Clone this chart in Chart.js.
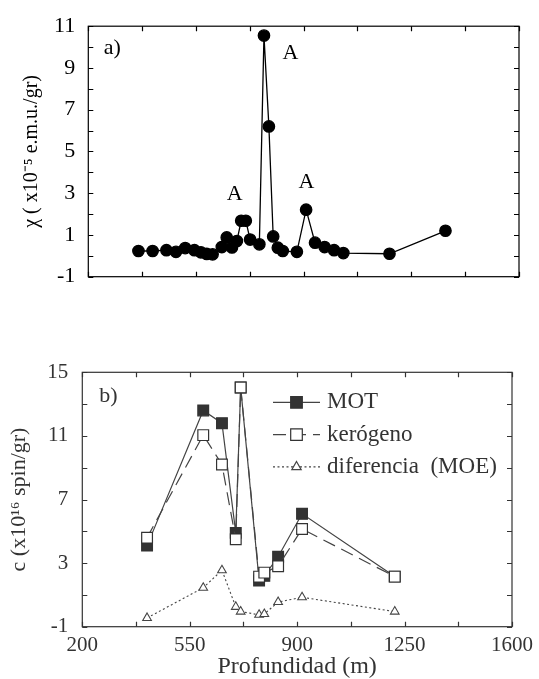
<!DOCTYPE html>
<html>
<head>
<meta charset="utf-8">
<script src="https://cdn.jsdelivr.net/npm/chart.js@4.4.1/dist/chart.umd.min.js"></script>
<style>
  body { margin: 0; background: #fff; }
  #wrap { position: relative; width: 539px; height: 679px; }
  canvas { position: absolute; left: 0; }
  #chartA { top: 0; }
  #chartB { top: 330px; }
</style>
</head>
<body>
<div id="wrap">
  <canvas id="chartA" width="539" height="330"></canvas>
  <canvas id="chartB" width="539" height="349"></canvas>
</div>
<script>
// datos leidos del grafico
// a) susceptibilidad
const profChi = [363, 409, 454, 485, 515, 545, 566, 585, 604, 634, 650, 667, 683, 697, 712, 726, 756, 771, 787, 801, 816, 832, 878, 908, 937, 968, 999, 1029, 1179, 1361];
const chi = [0.23, 0.23, 0.27, 0.19, 0.37, 0.27, 0.17, 0.09, 0.07, 0.42, 0.88, 0.4, 0.71, 1.68, 1.68, 0.78, 0.55, 10.55, 6.2, 0.93, 0.39, 0.23, 0.19, 2.21, 0.63, 0.42, 0.27, 0.13, 0.1, 1.2];

// b) concentracion de spin
const profC = [411, 594, 655, 700, 716, 776, 793, 838, 916, 1218];
const mot = [4.1, 12.6, 11.8, 4.9, 14.05, 1.9, 2.2, 3.4, 6.1, 2.15];
const kerogeno = [4.6, 11.05, 9.2, 4.5, 14.05, 2.15, 2.4, 2.8, 5.15, 2.15];
const diferencia = [-0.45, 1.45, 2.55, 0.25, -0.05, -0.25, -0.2, 0.55, 0.85, -0.05];

const etiquetasSerie = ['MOT', 'kerógeno', 'diferencia  (MOE)'];

const pares = (xs, ys) => xs.map((x, i) => ({ x: x, y: ys[i] }));

Chart.defaults.font.family = "'Liberation Serif', 'Times New Roman', serif";
Chart.defaults.color = '#000';

// marco con marcas hacia adentro en los 4 lados
const marco = {
  id: 'marco',
  beforeDatasetsDraw(chart, args, opts) {
    const { ctx, chartArea: a, scales: { x, y } } = chart;
    const len = 5;
    ctx.save();
    ctx.strokeStyle = opts.color;
    ctx.lineWidth = 1.2;
    ctx.strokeRect(a.left, a.top, a.right - a.left, a.bottom - a.top);
    ctx.beginPath();
    x.ticks.forEach(t => {
      const px = Math.round(x.getPixelForValue(t.value)) + 0.5;
      ctx.moveTo(px, a.bottom); ctx.lineTo(px, a.bottom - len);
      ctx.moveTo(px, a.top); ctx.lineTo(px, a.top + len);
    });
    y.ticks.forEach(t => {
      const py = Math.round(y.getPixelForValue(t.value)) + 0.5;
      ctx.moveTo(a.left, py); ctx.lineTo(a.left + len, py);
      ctx.moveTo(a.right, py); ctx.lineTo(a.right - len, py);
    });
    ctx.stroke();
    ctx.restore();
  }
};

// textos sueltos: a), b), A
const notas = {
  id: 'notas',
  afterDatasetsDraw(chart, args, opts) {
    const { ctx, chartArea: a, scales: { x, y } } = chart;
    ctx.save();
    ctx.fillStyle = opts.color;
    ctx.font = opts.font;
    ctx.textAlign = 'center';
    ctx.textBaseline = 'middle';
    (opts.items || []).forEach(it => {
      const px = it.dx != null ? a.left + it.dx : x.getPixelForValue(it.x);
      const py = it.dy != null ? a.top + it.dy : y.getPixelForValue(it.y);
      ctx.fillText(it.text, px, py);
    });
    ctx.restore();
  }
};

function marcador(ctx, estilo, x, y, r, relleno, borde) {
  ctx.beginPath();
  if (estilo === 'rect') {
    const s = r * Math.SQRT1_2;
    ctx.rect(x - s, y - s, 2 * s, 2 * s);
  } else if (estilo === 'triangle') {
    ctx.moveTo(x, y - r);
    ctx.lineTo(x + 0.866 * r, y + 0.5 * r);
    ctx.lineTo(x - 0.866 * r, y + 0.5 * r);
    ctx.closePath();
  } else {
    ctx.arc(x, y, r, 0, Math.PI * 2);
  }
  ctx.fillStyle = relleno;
  ctx.fill();
  ctx.strokeStyle = borde;
  ctx.lineWidth = 1.2;
  ctx.stroke();
}

// leyenda con linea + marcador
const leyenda = {
  id: 'leyenda',
  afterDatasetsDraw(chart, args, opts) {
    const ctx = chart.ctx;
    ctx.save();
    chart.data.datasets.forEach((ds, i) => {
      const y = opts.y + i * opts.gap;
      ctx.strokeStyle = ds.borderColor;
      ctx.lineWidth = ds.borderWidth;
      ctx.setLineDash(ds.borderDash || []);
      ctx.beginPath();
      ctx.moveTo(opts.x, y);
      ctx.lineTo(opts.x + opts.len, y);
      ctx.stroke();
      ctx.setLineDash([]);
      marcador(ctx, ds.pointStyle, opts.x + opts.len / 2, y, ds.pointRadius * 1.08, ds.pointBackgroundColor, ds.pointBorderColor);
      ctx.fillStyle = opts.color;
      ctx.font = opts.font;
      ctx.textAlign = 'left';
      ctx.textBaseline = 'middle';
      ctx.fillText(ds.label, opts.x + opts.len + 7, y);
    });
    ctx.restore();
  }
};

// grafico a)
new Chart(document.getElementById('chartA'), {
  type: 'scatter',
  data: {
    datasets: [{
      data: pares(profChi, chi),
      showLine: true,
      borderColor: '#000',
      borderWidth: 1.3,
      pointRadius: 5.7,
      pointBackgroundColor: '#000',
      pointBorderColor: '#000'
    }]
  },
  options: {
    responsive: false,
    animation: false,
    devicePixelRatio: 1,
    layout: { padding: { top: 25.7, right: 20, left: 0, bottom: 0 } },
    plugins: {
      legend: { display: false },
      tooltip: { enabled: false },
      marco: { color: '#000' },
      notas: {
        color: '#000',
        font: "22px 'Liberation Serif', serif",
        items: [
          { text: 'a)', dx: 24, dy: 22 },
          { text: 'A', x: 676, y: 2.96 },
          { text: 'A', x: 857, y: 9.69 },
          { text: 'A', x: 909, y: 3.55 }
        ]
      }
    },
    scales: {
      x: {
        type: 'linear', min: 200, max: 1600,
        grid: { display: false, drawTicks: false },
        border: { display: false },
        ticks: { display: false, stepSize: 175 },
        afterFit: s => { s.height = 53.3; }
      },
      y: {
        min: -1, max: 11,
        grid: { display: false, drawTicks: false },
        border: { display: false },
        ticks: {
          stepSize: 1, autoSkip: false, padding: 13,
          font: { size: 22 }, color: '#000',
          callback: v => (Math.abs(v % 2) === 1 ? String(v) : '')
        },
        title: {
          display: true,
          text: 'χ ( x10⁻⁵ e.m.u./gr)',
          font: { size: 20, lineHeight: 1.2 },
          color: '#000',
          padding: { top: 20, bottom: 0 }
        },
        afterFit: s => { s.width = 88.3; }
      }
    }
  },
  plugins: [marco, notas]
});

// grafico b)
new Chart(document.getElementById('chartB'), {
  type: 'scatter',
  data: {
    datasets: [{
      label: etiquetasSerie[0],
      data: pares(profC, mot),
      showLine: true,
      order: 2,
      borderColor: '#444',
      borderWidth: 1.2,
      pointStyle: 'rect',
      pointRadius: 7.6,
      pointBackgroundColor: '#333',
      pointBorderColor: '#333'
    }, {
      label: etiquetasSerie[1],
      data: pares(profC, kerogeno),
      showLine: true,
      order: 1,
      borderColor: '#444',
      borderWidth: 1.2,
      borderDash: [13, 7],
      pointStyle: 'rect',
      pointRadius: 7.6,
      pointBorderWidth: 1.2,
      pointBackgroundColor: '#fff',
      pointBorderColor: '#333'
    }, {
      label: etiquetasSerie[2],
      data: pares(profC, diferencia),
      showLine: true,
      order: 0,
      borderColor: '#444',
      borderWidth: 1.1,
      borderDash: [2, 2.5],
      pointStyle: 'triangle',
      pointRadius: 5,
      pointBorderWidth: 1.1,
      pointBackgroundColor: '#fff',
      pointBorderColor: '#444'
    }]
  },
  options: {
    responsive: false,
    animation: false,
    devicePixelRatio: 1,
    layout: { padding: { top: 42.3, right: 23.3, left: 0, bottom: 0 } },
    plugins: {
      legend: { display: false },
      tooltip: { enabled: false },
      marco: { color: '#333' },
      notas: {
        color: '#333',
        font: "22px 'Liberation Serif', serif",
        items: [{ text: 'b)', dx: 26, dy: 24 }]
      },
      leyenda: { x: 273, y: 72.3, gap: 32.3, len: 47, color: '#333', font: "23px 'Liberation Serif', serif" }
    },
    scales: {
      x: {
        type: 'linear', min: 200, max: 1600,
        grid: { display: false, drawTicks: false },
        border: { display: false },
        ticks: {
          stepSize: 175, autoSkip: false, maxRotation: 0, padding: 6,
          font: { size: 21 }, color: '#333',
          callback: v => ((v - 200) % 350 === 0 ? String(v) : '')
        },
        title: {
          display: true,
          text: 'Profundidad (m)',
          font: { size: 24, lineHeight: 1 },
          color: '#333',
          padding: { top: 0, bottom: 0 }
        },
        afterFit: s => { s.height = 52.3; }
      },
      y: {
        min: -1, max: 15,
        grid: { display: false, drawTicks: false },
        border: { display: false },
        ticks: {
          stepSize: 2, autoSkip: false, padding: 14,
          font: { size: 21 }, color: '#333',
          callback: v => ((v + 1) % 4 === 0 ? String(v) : '')
        },
        title: {
          display: true,
          text: 'c (x10¹⁶ spin/gr)',
          font: { size: 22, lineHeight: 1.2 },
          color: '#333',
          padding: { top: 6, bottom: 0 }
        },
        afterFit: s => { s.width = 82.3; }
      }
    }
  },
  plugins: [marco, notas, leyenda]
});
</script>
</body>
</html>
